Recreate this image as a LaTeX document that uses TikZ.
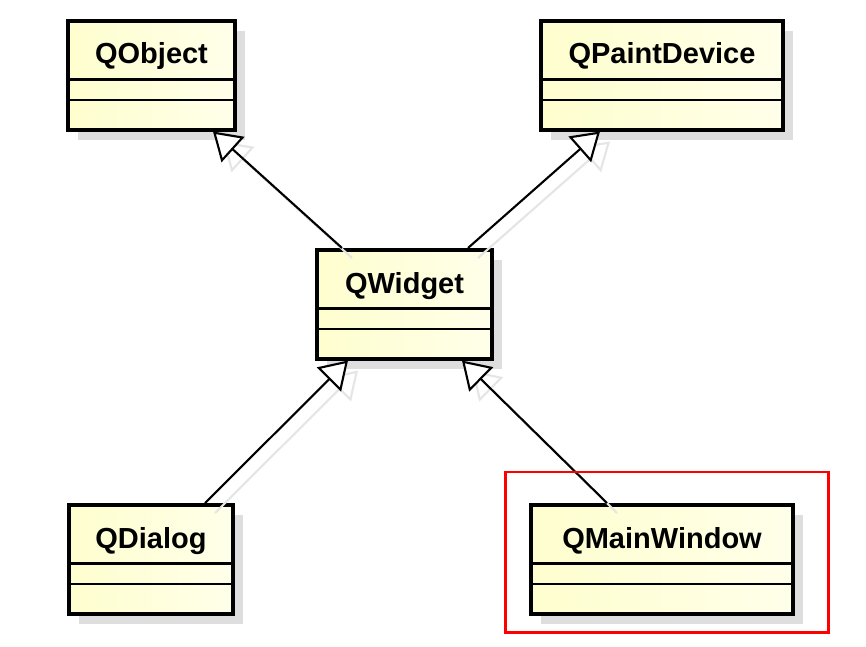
\documentclass[tikz,border=0pt]{standalone}
\usepackage{fontspec}
\setsansfont{Liberation Sans}
\usetikzlibrary{arrows.meta,shadows}

\definecolor{classleft}{RGB}{254,254,206}
\definecolor{classright}{RGB}{255,255,234}
\definecolor{shadowgray}{RGB}{222,222,222}

\tikzset{
  classbox/.style={draw, line width=2pt, left color=classleft, right color=classright,
    minimum height=2.18cm, inner sep=0pt, anchor=north,
    drop shadow={shadow xshift=0.2cm, shadow yshift=-0.2cm, fill=shadowgray, opacity=1}},
  classname/.style={anchor=base, inner sep=0pt, font=\sffamily\bfseries\fontsize{16.5}{20}\selectfont},
  sepline/.style={line width=1.3pt},
  inherit/.style={line width=1.2pt, -{Triangle[length=0.54cm, width=0.68cm, fill=white]}},
  inheritshadow/.style={inherit, draw=black!10, transform canvas={shift={(0.2,-0.2)}}},
  highlight/.style={draw=red, line width=1.7pt}
}

\begin{document}
\begin{tikzpicture}
  \useasboundingbox (0,0) rectangle (17.32,12.92);

  % classes
  \node[classbox, minimum width=3.34cm] (qobject) at (3.03,12.54) {};
  \node[classbox, minimum width=4.84cm] (qpaintdevice) at (13.24,12.54) {};
  \node[classbox, minimum width=3.5cm] (qwidget) at (8.09,7.96) {};
  \node[classbox, minimum width=3.28cm] (qdialog) at (3.02,2.86) {};
  \node[classbox, minimum width=5.24cm] (qmainwindow) at (13.24,2.86) {};

  \foreach \n/\t in {qobject/QObject, qpaintdevice/QPaintDevice, qwidget/QWidget,
                     qdialog/QDialog, qmainwindow/QMainWindow} {
    \node[classname] (\n-name) at ([yshift=-0.9cm]\n.north) {\t};
    \draw[sepline] ([yshift=-1.21cm]\n.north west) -- ([yshift=-1.21cm]\n.north east);
    \draw[sepline] ([yshift=-1.62cm]\n.north west) -- ([yshift=-1.62cm]\n.north east);
  }

  % generalisations
  \foreach \a/\ax/\b/\bx in {qwidget/-1.25/qobject/1.23, qwidget/1.27/qpaintdevice/-1.24,
                             qdialog/1.08/qwidget/-1.13, qmainwindow/-1.1/qwidget/1.15} {
    \draw[inheritshadow] ([xshift=\ax cm]\a.north) -- ([xshift=\bx cm]\b.south);
    \draw[inherit] ([xshift=\ax cm]\a.north) -- ([xshift=\bx cm]\b.south);
  }

  \draw[highlight] (10.1,0.28) rectangle (16.56,3.48);
\end{tikzpicture}
\end{document}
